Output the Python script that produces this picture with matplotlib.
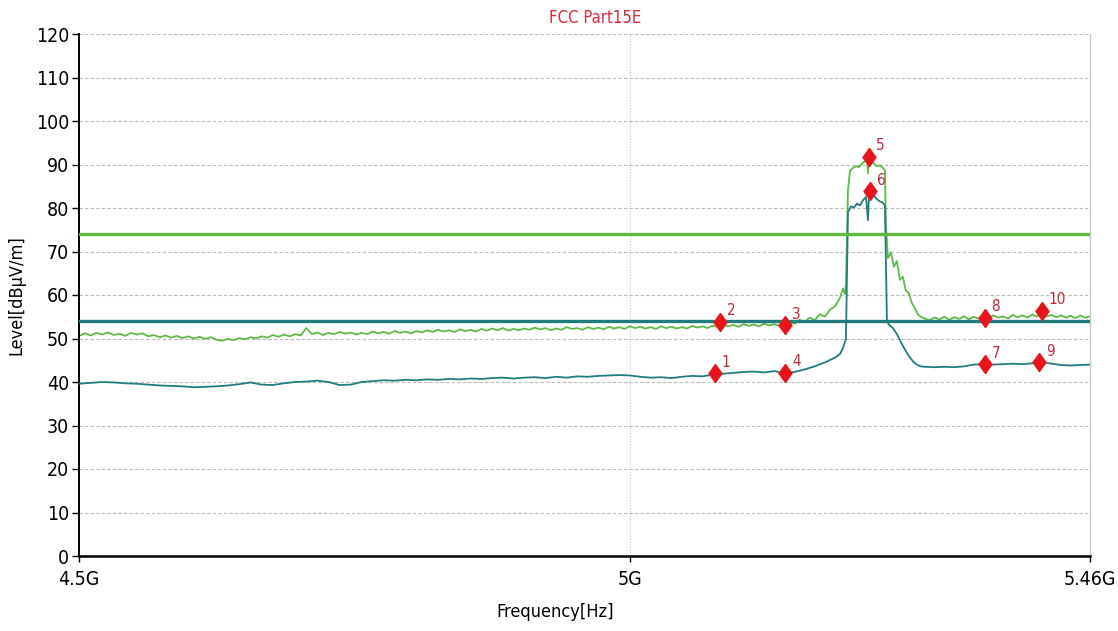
import matplotlib
matplotlib.use("Agg")
import matplotlib.pyplot as plt
from matplotlib.ticker import FixedLocator, FixedFormatter, NullLocator
from matplotlib import font_manager

# ---------------- data ----------------
title = "FCC Part15E"
x_label = "Frequency[Hz]"
y_label = "Level[dBμV/m]"
x_ticks_mhz = [4500, 5000, 5460]
x_tick_labels = ["4.5G", "5G", "5.46G"]
y_ticks = [0, 10, 20, 30, 40, 50, 60, 70, 80, 90, 100, 110, 120]

limit_peak = 74.0
limit_avg = 54.0

# Peak trace (green), frequency in MHz
peak_freq = [
    4500, 4505, 4510, 4515, 4520, 4525, 4530, 4535, 4540, 4545,
    4550, 4555, 4560, 4565, 4570, 4575, 4580, 4585, 4590, 4595,
    4600, 4605, 4610, 4615, 4620, 4625, 4630, 4635, 4640, 4645,
    4650, 4655, 4660, 4665, 4670, 4675, 4680, 4685, 4690, 4695,
    4700, 4705, 4710, 4715, 4720, 4725, 4730, 4735, 4740, 4745,
    4750, 4755, 4760, 4765, 4770, 4775, 4780, 4785, 4790, 4795,
    4800, 4805, 4810, 4815, 4820, 4825, 4830, 4835, 4840, 4845,
    4850, 4855, 4860, 4865, 4870, 4875, 4880, 4885, 4890, 4895,
    4900, 4905, 4910, 4915, 4920, 4925, 4930, 4935, 4940, 4945,
    4950, 4955, 4960, 4965, 4970, 4975, 4980, 4985, 4990, 4995,
    5000, 5005, 5010, 5015, 5020, 5025, 5030, 5035, 5040, 5045,
    5050, 5055, 5060, 5065, 5070, 5075, 5080, 5085, 5090, 5095,
    5100, 5105, 5110, 5115, 5120, 5125, 5130, 5135, 5140, 5145,
    5150, 5155, 5160, 5165, 5170, 5175, 5180, 5185, 5190, 5195,
    5200, 5205, 5208, 5210,
    5211, 5213, 5215, 5218, 5221, 5224, 5227, 5230, 5232, 5233,
    5234, 5236, 5239, 5242, 5245, 5248, 5250, 5251, 5253, 5256,
    5259, 5262, 5265, 5268, 5271, 5274, 5277, 5280, 5283, 5286,
    5290, 5295, 5300, 5305, 5310, 5315, 5320, 5325, 5330, 5335,
    5340, 5345, 5350, 5355, 5360, 5365, 5370, 5375, 5380, 5385,
    5390, 5395, 5400, 5405, 5410, 5415, 5420, 5425, 5430, 5435,
    5440, 5445, 5450, 5455, 5460,
]
peak_level = [
    50.6, 51.2, 50.7, 51.3, 50.9, 51.4, 50.8, 51.1, 50.6, 51.3,
    50.9, 51.2, 50.5, 50.8, 50.3, 50.7, 50.2, 50.6, 50.1, 50.5,
    50.0, 50.4, 49.9, 50.3, 49.7, 49.5, 49.9, 49.6, 50.1, 49.8,
    50.3, 50.0, 50.5, 50.2, 50.8, 50.4, 50.9, 50.5, 51.0, 50.7,
    52.4, 51.0, 51.4, 50.8, 51.3, 51.0, 51.5, 51.1, 51.4, 50.9,
    51.3, 51.0, 51.6, 51.2, 51.5, 51.1, 51.7, 51.3, 51.6, 51.2,
    51.7, 51.4, 51.9, 51.5, 52.0, 51.6, 51.9, 51.5, 52.1, 51.7,
    52.0, 51.6, 52.2, 51.8, 52.3, 51.9, 52.4, 51.8, 52.2, 51.9,
    52.3, 52.0, 52.5, 52.1, 52.4, 51.9, 52.3, 52.0, 52.6, 52.2,
    52.4, 52.0, 52.6, 52.2, 52.5, 52.1, 52.7, 52.3, 52.6, 52.2,
    52.8, 52.4, 52.7, 52.3, 52.6, 52.2, 52.8, 52.4, 52.7, 52.3,
    52.6, 52.3, 52.9, 52.5, 52.8, 52.4, 53.0, 52.6, 53.2, 52.8,
    53.1, 52.7, 53.3, 52.9, 53.2, 52.8, 53.4, 53.0, 53.3, 52.9,
    53.2, 53.7, 53.4, 54.3, 53.8, 54.8, 54.2, 55.6, 55.0, 56.6,
    57.4, 59.3, 61.5, 60.2,
    62.5, 84.0, 88.5, 89.2, 89.6, 89.4, 90.2, 90.8, 91.5, 88.0,
    92.0, 91.0, 90.2, 89.6, 89.8, 89.2, 88.6, 76.0, 68.5, 69.8,
    66.5, 67.8, 63.5, 64.2, 61.0, 60.5, 58.2, 57.0, 55.6, 55.0,
    54.6, 54.2, 54.8, 54.4, 55.0, 54.3, 54.9, 54.5, 55.1, 54.4,
    55.0, 54.6, 55.2, 54.7, 55.3, 54.8, 55.1, 54.6, 55.4, 54.9,
    55.3, 54.8, 55.5, 55.0, 56.2, 55.1, 55.4, 54.9, 55.3, 54.8,
    55.2, 54.7, 55.3, 54.8, 55.1,
]

# Average trace (teal), frequency in MHz
avg_freq = [
    4500, 4510, 4520, 4530, 4540, 4550, 4560, 4570, 4580, 4590,
    4600, 4610, 4620, 4630, 4640, 4650, 4660, 4670, 4680, 4690,
    4700, 4710, 4720, 4730, 4740, 4750, 4760, 4770, 4780, 4790,
    4800, 4810, 4820, 4830, 4840, 4850, 4860, 4870, 4880, 4890,
    4900, 4910, 4920, 4930, 4940, 4950, 4960, 4970, 4980, 4990,
    5000, 5010, 5020, 5030, 5040, 5050, 5060, 5070, 5080, 5090,
    5100, 5110, 5120, 5130, 5140, 5150, 5160, 5170, 5180, 5190,
    5200, 5205, 5208,
    5211, 5213, 5216, 5219, 5222, 5225, 5228, 5231, 5233, 5234,
    5236, 5239, 5242, 5245, 5248, 5250, 5252, 5254, 5258, 5262,
    5266, 5270, 5274, 5278, 5282, 5286, 5290,
    5300, 5310, 5320, 5330, 5340, 5350, 5360, 5370, 5380, 5390,
    5400, 5410, 5420, 5430, 5440, 5450, 5460,
]
avg_level = [
    39.6, 39.8, 40.0, 39.9, 39.7, 39.6, 39.4, 39.2, 39.1, 39.0,
    38.8, 38.9, 39.0, 39.2, 39.5, 39.9, 39.4, 39.3, 39.7, 40.0,
    40.1, 40.3, 40.0, 39.3, 39.4, 40.0, 40.2, 40.4, 40.3, 40.5,
    40.4, 40.6, 40.5, 40.7, 40.6, 40.8, 40.7, 40.9, 41.0, 40.8,
    41.0, 41.1, 40.9, 41.2, 41.0, 41.3, 41.2, 41.4, 41.5, 41.6,
    41.5, 41.2, 41.0, 41.1, 40.9, 41.2, 41.4, 41.3, 41.7, 41.9,
    42.1, 42.3, 42.4, 42.2, 42.5, 42.1, 42.3, 42.9, 43.6, 44.5,
    45.6, 46.4, 47.8,
    50.0, 79.0, 80.4, 80.1, 81.0, 80.6, 81.8, 82.5, 77.2, 83.0,
    84.0, 82.8, 82.0, 81.5, 81.2, 80.5, 54.0, 53.2, 52.4, 51.0,
    49.2, 47.5, 46.0, 44.8, 44.0, 43.6, 43.5,
    43.4, 43.5, 43.4, 43.6, 44.0, 44.1, 44.0, 44.1, 44.2, 44.1,
    44.3, 44.6, 44.2, 43.9, 43.8, 43.9, 44.0,
]

marker_ids = ["1", "2", "3", "4", "5", "6", "7", "8", "9", "10"]
marker_freq = [5082, 5087, 5151, 5151, 5234, 5235, 5351, 5351, 5407, 5410]
marker_level = [42.0, 53.9, 53.0, 42.1, 91.8, 83.8, 44.1, 54.7, 44.5, 56.3]

# ---------------- style ----------------
base_font = "Liberation Sans"
font_stretch = "normal"
for fe in font_manager.fontManager.ttflist:
    if "Narrow" in fe.name or "Condensed" in fe.name:
        base_font = fe.name
        break
    if fe.name in ("Liberation Sans", "DejaVu Sans") and fe.stretch in ("condensed", "semi-condensed"):
        base_font = fe.name
        font_stretch = fe.stretch
        break
plt.rcParams["font.family"] = [base_font, "DejaVu Sans"]
plt.rcParams["font.stretch"] = font_stretch

green = "#5fba45"
teal = "#1f7d80"
red_marker = "#e8141c"
red_text = "#c0283a"

fig = plt.figure(figsize=(11.18, 6.31), dpi=100)
ax = fig.add_axes([79 / 1118, 1 - 556 / 631, (1090 - 79) / 1118, (556 - 34) / 631])
ax.set_xscale("log")
ax.set_xlim(4500, 5460)
ax.set_ylim(0, 120)

# grid
for yv in y_ticks[1:]:
    ax.axhline(yv, color="#b8b8b8", lw=0.8, ls=(0, (3, 2)), zorder=0)
ax.axvline(5000, color="#c8c8c8", lw=0.8, ls=(0, (1, 1.5)), zorder=0)

# traces
ax.plot(peak_freq, peak_level, color=green, lw=1.3, zorder=2)
ax.plot(avg_freq, avg_level, color=teal, lw=1.3, zorder=3)

# limit lines
ax.axhline(limit_peak, color=green, lw=2.4, zorder=4)
ax.axhline(limit_avg, color=teal, lw=2.4, zorder=4)

# markers
diamond = [(0, 1), (0.72, 0), (0, -1), (-0.72, 0), (0, 1)]
ax.plot(marker_freq, marker_level, linestyle="none", marker=diamond,
        ms=13, color=red_marker, zorder=6)
for mid, f, l in zip(marker_ids, marker_freq, marker_level):
    ax.annotate(mid, (f, l), xytext=(5, 8), textcoords="offset points",
                ha="left", va="center", color=red_text, fontsize=11, zorder=7)

# axes decoration
ax.xaxis.set_major_locator(FixedLocator(x_ticks_mhz))
ax.xaxis.set_major_formatter(FixedFormatter(x_tick_labels))
ax.xaxis.set_minor_locator(NullLocator())
ax.yaxis.set_major_locator(FixedLocator(y_ticks))
ax.tick_params(axis="y", direction="out", length=5, width=1, labelsize=14, pad=2, colors="black")
ax.tick_params(axis="x", direction="out", length=4, width=1, labelsize=14, pad=6, colors="black")

ax.spines["top"].set_visible(False)
ax.spines["right"].set_color("#c8c8c8")
ax.spines["right"].set_linewidth(1.0)
ax.spines["left"].set_linewidth(1.4)
ax.spines["bottom"].set_linewidth(1.8)

fig.text(595 / 1118, 1 - 18 / 631, title, color="#d42a3a", fontsize=12,
         ha="center", va="center")
fig.text(555 / 1118, 1 - 612 / 631, x_label, fontsize=13, ha="center", va="center")
fig.text(16 / 1118, 1 - 295 / 631, y_label, fontsize=13, ha="center", va="center",
         rotation=90)

fig.savefig("out.png", dpi=100, facecolor="white")
